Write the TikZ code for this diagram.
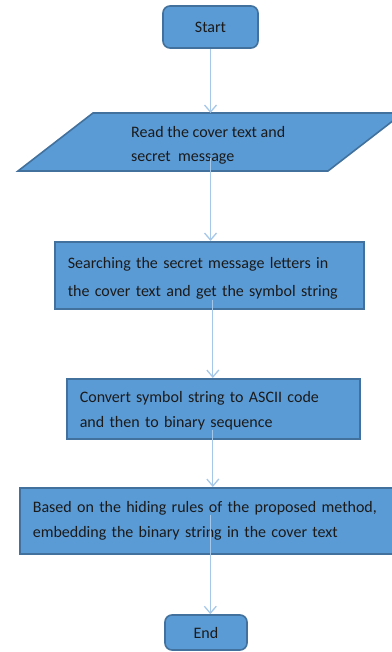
\documentclass[tikz,border=0pt]{standalone}
\usepackage{fontspec}
\setmainfont{Carlito}
\usepackage{tikz}
\usetikzlibrary{arrows.meta, positioning, calc}

\definecolor{boxfill}{HTML}{5B9BD5}
\definecolor{boxline}{HTML}{41719C}
\definecolor{flowline}{HTML}{A6C8E8}
\definecolor{boxtext}{HTML}{1A1A1A}

\begin{document}
\begin{tikzpicture}[
  x=1pt, y=-1pt,
  every node/.style={font=\fontsize{16}{24.5}\selectfont, text=boxtext},
  terminal/.style={draw=boxline, fill=boxfill, line width=1.6pt, rounded corners=7pt, align=center},
  boxstep/.style={draw=boxline, fill=boxfill, line width=1.6pt, align=left, inner xsep=13pt, anchor=north west},
  arrow/.style={-{Straight Barb[length=7pt, width=12pt]}, line width=1.3pt, flowline}
]
  \useasboundingbox (0,0) rectangle (391,652);

  % Start
  \node[terminal, minimum width=95pt, minimum height=42pt] (start) at (210.5,27) {Start};

  % Input: parallelogram
  \coordinate (readtop) at (210.5,113);
  \coordinate (readbot) at (210.5,171);
  \draw[draw=boxline, fill=boxfill, line width=1.6pt]
    (18,171) -- (328,171) -- (403,113) -- (93,113) -- cycle;
  \node[anchor=west, align=left, inner sep=0pt] (read) at (131,145.5) {Read the cover text and\\secret\ \ message};

  % Step 1
  \node[boxstep, minimum width=309pt, minimum height=67pt, text width=283pt,
        font=\fontsize{16}{28.5}\selectfont] (search) at (54,241)
    {\rule{0pt}{17pt}Searching the secret message letters in\\the cover text and get the symbol string};

  % Step 2
  \node[boxstep, minimum width=293pt, minimum height=60pt, text width=267pt] (convert) at (66,378)
    {\rule{0pt}{15pt}Convert symbol string to ASCII code\\and then to binary sequence};

  % Step 3
  \node[boxstep, minimum width=374pt, minimum height=66pt, text width=348pt] (embed) at (19,487)
    {Based on the hiding rules of the proposed method,\\embedding the binary string in the cover text};

  % End
  \node[terminal, minimum width=82pt, minimum height=35pt] (end) at (206,632.5) {End};

  % Arrows
  \draw[arrow] (start.south) -- (readtop);
  \draw[arrow] ([yshift=13pt]readbot) -- (readbot |- search.north);
  \draw[arrow] ([xshift=3.5pt, yshift=10pt]search.south) -- ([xshift=3.5pt]search.south |- convert.north);
  \draw[arrow] ([xshift=-0.5pt, yshift=10pt]convert.south) -- ([xshift=-0.5pt]convert.south |- embed.north);
  \draw[arrow] ([xshift=3.5pt, yshift=40pt]embed.south) -- ([xshift=3.5pt]embed.south |- end.north);

\end{tikzpicture}
\end{document}
